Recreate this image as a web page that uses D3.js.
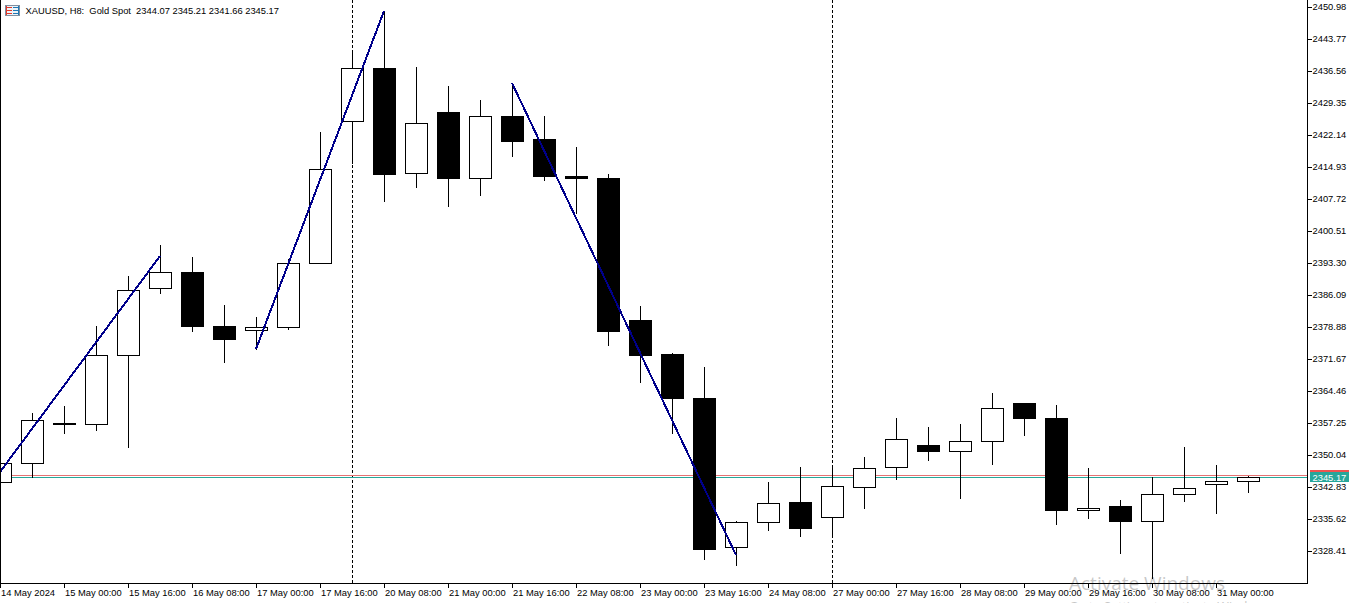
<!DOCTYPE html>
<html>
<head>
<meta charset="utf-8">
<style>
html,body{margin:0;padding:0;background:#fff;overflow:hidden}
svg{display:block}
text{font-family:"Liberation Sans",Arial,sans-serif;font-size:9.35px;fill:#000}
</style>
<script src="https://cdnjs.cloudflare.com/ajax/libs/d3/7.8.5/d3.min.js"></script>
</head>
<body>
<svg id="c" width="1359" height="603"></svg>
<script>
const opens=[2343.96,2348.24,2357.25,2357.02,2372.57,2387.67,2391.27,2379.11,2378.20,2378.88,2393.30,2425.29,2437.24,2413.58,2427.32,2412.45,2426.42,2421.24,2412.90,2412.45,2380.46,2372.80,2362.88,2329.31,2334.94,2339.45,2336.07,2342.83,2347.34,2352.29,2350.94,2353.19,2361.76,2358.38,2337.65,2338.55,2335.17,2341.25,2343.51,2344.07];
const highs=[2348.24,2359.50,2361.08,2379.11,2390.37,2397.36,2394.65,2383.84,2381.13,2394.20,2422.82,2440.62,2450.08,2437.46,2433.18,2430.03,2433.86,2426.42,2419.44,2413.35,2383.61,2373.02,2369.87,2335.17,2343.96,2347.34,2347.56,2349.59,2358.38,2356.35,2357.02,2364.01,2361.76,2361.31,2347.11,2339.90,2345.08,2351.84,2347.79,2345.21];
const lows=[2343.96,2345.08,2355.00,2355.67,2351.84,2386.54,2377.98,2370.99,2373.92,2378.43,2393.30,2415.83,2407.27,2410.42,2406.14,2408.62,2417.41,2412.00,2404.57,2374.82,2366.49,2355.00,2326.61,2325.26,2333.14,2331.79,2332.01,2338.10,2344.63,2348.91,2340.35,2348.01,2354.55,2334.49,2335.85,2327.96,2322.33,2339.68,2336.97,2341.66];
const closes=[2348.24,2357.93,2357.02,2372.57,2387.22,2391.27,2379.11,2376.18,2378.88,2393.30,2414.48,2437.24,2413.35,2424.84,2412.45,2426.42,2420.79,2412.90,2412.45,2377.98,2372.57,2362.88,2328.86,2334.94,2339.23,2333.59,2343.06,2347.11,2353.65,2350.94,2353.19,2360.63,2358.38,2337.65,2338.10,2335.17,2341.25,2342.61,2344.18,2345.17];
const priceTicks=[2450.98,2443.77,2436.56,2429.35,2422.14,2414.93,2407.72,2400.51,2393.30,2386.09,2378.88,2371.67,2364.46,2357.25,2350.04,2342.83,2335.62,2328.41];
const timeLabels=["14 May 2024","15 May 00:00","15 May 16:00","16 May 08:00","17 May 00:00","17 May 16:00","20 May 08:00","21 May 00:00","21 May 16:00","22 May 08:00","23 May 00:00","23 May 16:00","24 May 08:00","27 May 00:00","27 May 16:00","28 May 08:00","29 May 00:00","29 May 16:00","30 May 08:00","31 May 00:00"];
const timeLabelIndex=[0,2,4,6,8,10,12,14,16,18,20,22,24,26,28,30,32,34,36,38];
const separators=[11,26];
const zigzagUp1=[[0,2346.21],[5,2394.88]];
const zigzagUp2=[[8,2373.92],[12,2450.08]];
const zigzagDown=[[16,2433.86],[23,2327.51]];
const bidPrice=2345.17;
const askPrice=2345.53;
const titleText="XAUUSD, H8:  Gold Spot  2344.07 2345.21 2341.66 2345.17";
const watermark=["Activate Windows","Go to Settings to activate Windows."];

const plotRight=1307, plotBottom=583;
const x=d3.scaleLinear().domain([0,39]).range([0,1248]);
const y=d3.scaleLinear().domain([2450.98,2328.41]).range([7,551]);
const px=i=>Math.round(x(i))+.5;
const py=v=>Math.round(y(v))+.5;

const svg=d3.select("#c");
const chart=svg.append("g");

chart.selectAll("line.sep").data(separators).join("line")
 .attr("x1",px).attr("x2",px).attr("y1",0).attr("y2",plotBottom)
 .attr("stroke","#000").attr("stroke-dasharray","3,2").attr("shape-rendering","crispEdges");

[[askPrice,"#e57373"],[bidPrice,"#26a69a"]].forEach(([p,c])=>{
 chart.append("line").attr("x1",0).attr("x2",plotRight).attr("y1",py(p)).attr("y2",py(p))
  .attr("stroke",c).attr("shape-rendering","crispEdges");
});

const idx=d3.range(opens.length);
chart.selectAll("line.wick").data(idx).join("line")
 .attr("x1",px).attr("x2",px).attr("y1",i=>py(highs[i])-.5).attr("y2",i=>py(lows[i])+.5)
 .attr("stroke","#000").attr("shape-rendering","crispEdges");
chart.selectAll("rect.body").data(idx).join("rect")
 .attr("x",i=>px(i)-11).attr("width",22)
 .attr("y",i=>Math.min(py(opens[i]),py(closes[i])))
 .attr("height",i=>Math.abs(py(opens[i])-py(closes[i])))
 .attr("fill",i=>closes[i]>=opens[i]?"#fff":"#000")
 .attr("stroke","#000").attr("shape-rendering","crispEdges");

const line=d3.line().x(d=>x(d[0])).y(d=>y(d[1]));
[zigzagUp1,zigzagUp2,zigzagDown].forEach(s=>{
 chart.append("path").attr("d",line(s)).attr("fill","none").attr("stroke","#00008b").attr("stroke-width",2).attr("shape-rendering","crispEdges");
});

const frame="#000";
svg.append("line").attr("x1",.5).attr("x2",.5).attr("y1",0).attr("y2",plotBottom+.5).attr("stroke",frame).attr("shape-rendering","crispEdges");
svg.append("line").attr("x1",plotRight+.5).attr("x2",plotRight+.5).attr("y1",0).attr("y2",plotBottom+1).attr("stroke",frame).attr("shape-rendering","crispEdges");
svg.append("line").attr("x1",0).attr("x2",plotRight+1).attr("y1",plotBottom+.5).attr("y2",plotBottom+.5).attr("stroke",frame).attr("shape-rendering","crispEdges");

const pa=svg.append("g");
pa.selectAll("line").data(priceTicks).join("line")
 .attr("x1",plotRight+1).attr("x2",plotRight+5).attr("y1",py).attr("y2",py)
 .attr("stroke","#000").attr("shape-rendering","crispEdges");
pa.selectAll("text").data(priceTicks).join("text")
 .attr("x",plotRight+5.5).attr("y",d=>py(d)+2.5).text(d=>d.toFixed(2));

const ta=svg.append("g");
ta.selectAll("line").data(timeLabelIndex).join("line")
 .attr("x1",px).attr("x2",px).attr("y1",plotBottom+1).attr("y2",plotBottom+5)
 .attr("stroke","#000").attr("shape-rendering","crispEdges");
ta.selectAll("text").data(timeLabels).join("text")
 .attr("x",(d,i)=>x(timeLabelIndex[i])+1).attr("y",plotBottom+13).text(d=>d);

const ty=Math.floor(py(bidPrice));
svg.append("rect").attr("x",1310).attr("y",ty-7).attr("width",39).attr("height",2).attr("fill","#ef5350");
svg.append("rect").attr("x",1310).attr("y",ty-5).attr("width",39).attr("height",10).attr("fill","#26a69a");
svg.append("text").attr("x",1312.5).attr("y",ty+3.5).style("fill","#fff").text(bidPrice.toFixed(2));

const ic=svg.append("g").attr("shape-rendering","crispEdges");
ic.append("rect").attr("x",5.5).attr("y",5.5).attr("width",14).attr("height",10).attr("fill","#eef3f8").attr("stroke","#7f8fa0");
[7,10,13].forEach(v=>{
 ic.append("line").attr("x1",7).attr("x2",12).attr("y1",v+.5).attr("y2",v+.5).attr("stroke","#e0392b");
 ic.append("line").attr("x1",13).attr("x2",19).attr("y1",v+.5).attr("y2",v+.5).attr("stroke","#1f78b4");
});
ic.append("line").attr("x1",6.5).attr("x2",6.5).attr("y1",6).attr("y2",15).attr("stroke","#e0392b");
ic.append("line").attr("x1",18.5).attr("x2",18.5).attr("y1",6).attr("y2",15).attr("stroke","#1f78b4");
svg.append("text").attr("x",25.5).attr("y",14).attr("xml:space","preserve").style("white-space","pre").text(titleText);

svg.append("text").attr("x",1069).attr("y",590).style("font-family","'Open Sans'").style("font-size","19px").style("fill","#000").style("opacity",.22).text(watermark[0]);
svg.append("text").attr("x",1069).attr("y",611).style("font-family","'Open Sans'").style("font-size","12.5px").style("fill","#000").style("opacity",.22).text(watermark[1]);
</script>
</body>
</html>
